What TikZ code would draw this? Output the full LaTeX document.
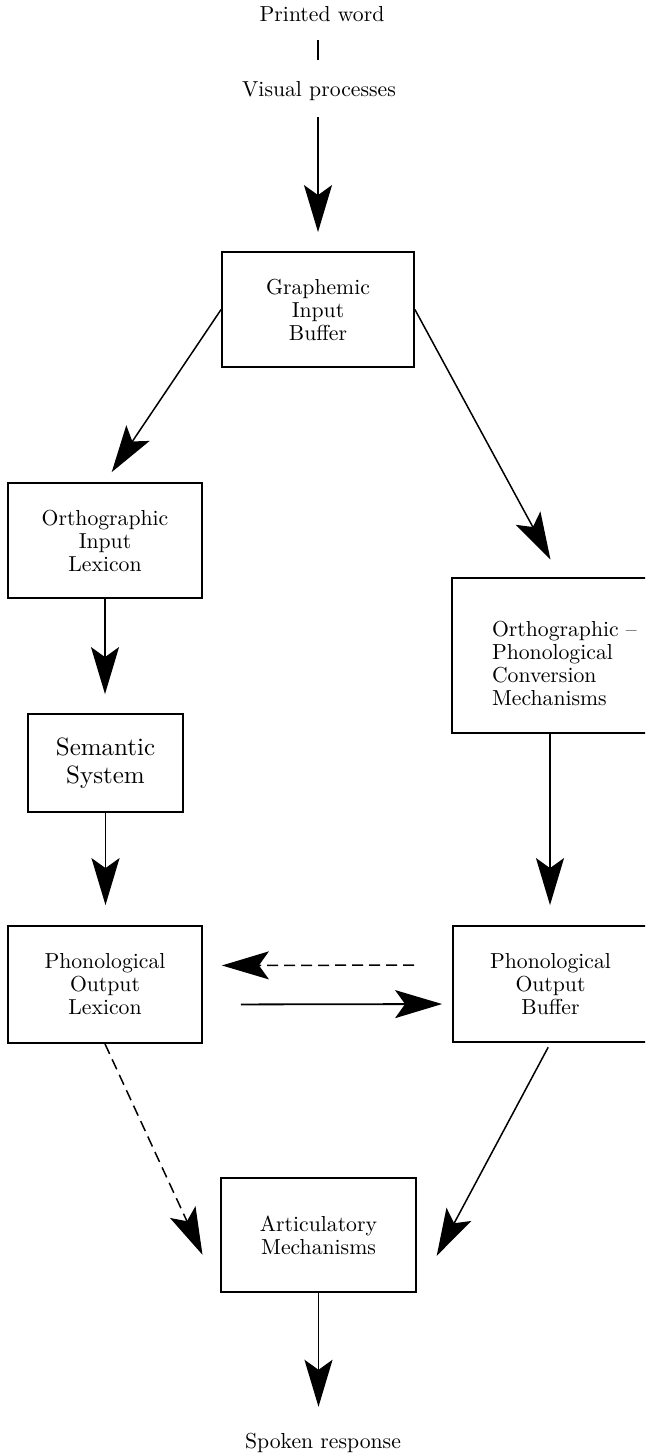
\documentclass[tikz,border=0pt]{standalone}
\usepackage{fontspec}
\setmainfont{lmroman10-regular}[Extension=.otf]
\usetikzlibrary{arrows.meta,calc}
\begin{document}
\begin{tikzpicture}[x=1pt,y=-1pt,
  every node/.style={font=\fontsize{21.7}{23}\selectfont},
  stage/.style={draw, line width=1.8pt, rectangle, align=center, inner sep=0pt},
  freetext/.style={inner sep=0pt, text height=15pt, text depth=4pt},
  flow/.style={line width=1.8pt, -{Stealth[length=47pt,width=28pt,inset=10pt]}},
  slant/.style={flow, line width=1.5pt},
  dashflow/.style={flow, line width=1.5pt, dash pattern=on 11pt off 6pt},
]
% page frame
\useasboundingbox (0,0) rectangle (645,1453);
\clip (0,0) rectangle (645,1453);
\fill[white] (0,0) rectangle (645,1453);

% free labels
\node[freetext] (pw) at (322,16.5) {Printed word};
\node[freetext] (vp) at (319,91.5) {Visual processes};
\node[freetext] (sr) at (323,1442.5) {Spoken response};

% processing stages
\node[stage, minimum width=192pt, minimum height=115pt] (gib) at (318,309.5) {Graphemic\\Input\\Buffer};
\node[stage, minimum width=194pt, minimum height=115pt] (oil) at (105,540.5) {Orthographic\\Input\\Lexicon};
\node[stage, minimum width=155pt, minimum height=98pt, font=\fontsize{25}{28}\selectfont] (sem) at (105.5,763) {Semantic\\System};
\node[stage, minimum width=196pt, minimum height=155pt, text width=116pt, align=left] (opcm) at (550,655.5)
  {\mbox{\rule{0pt}{31pt}Orthographic --}\\Phonological\\Conversion\\Mechanisms};
\node[stage, minimum width=194pt, minimum height=117pt] (pol) at (105,984.5) {Phonological\\Output\\Lexicon};
\node[stage, minimum width=195pt, minimum height=116pt] (pob) at (550.5,984) {Phonological\\Output\\Buffer};
\node[stage, minimum width=195pt, minimum height=114pt] (am) at (318.5,1235) {Articulatory\\Mechanisms};

% connectors
\draw[line width=1.8pt, shorten <=14pt, shorten >=22pt] (gib.north |- pw.south) -- (gib.north |- vp.north);
\draw[flow, shorten <=16pt, shorten >=19pt] (gib.north |- vp.south) -- (gib.north);
\draw[slant, shorten >=12pt] (gib.west) -- (oil.north);
\draw[slant, shorten >=20pt] (gib.east) -- ([xshift=10pt]opcm.north);
\draw[flow, shorten >=19pt] (oil.south) -- (oil.south |- sem.north);
\draw[flow, shorten >=20pt] (sem.south) -- (sem.south |- pol.north);
\draw[flow, shorten >=20pt] (opcm.south) -- (opcm.south |- pob.north);
\draw[dashflow, shorten <=38pt, shorten >=19pt] ([yshift=19pt]pob.west) -- ([yshift=19pt]pol.east);
\draw[flow, shorten <=38pt, shorten >=10pt] ([yshift=-20pt]pol.east) -- ([yshift=-20pt]pob.west);
\draw[dashflow, shorten >=42pt] (pol.south) -- (am.south west);
\draw[slant, shorten <=5pt, shorten >=42pt] (pob.south) -- (am.south east);
\draw[flow, shorten >=26pt] (am.south) -- (am.south |- sr.north);
\end{tikzpicture}
\end{document}
